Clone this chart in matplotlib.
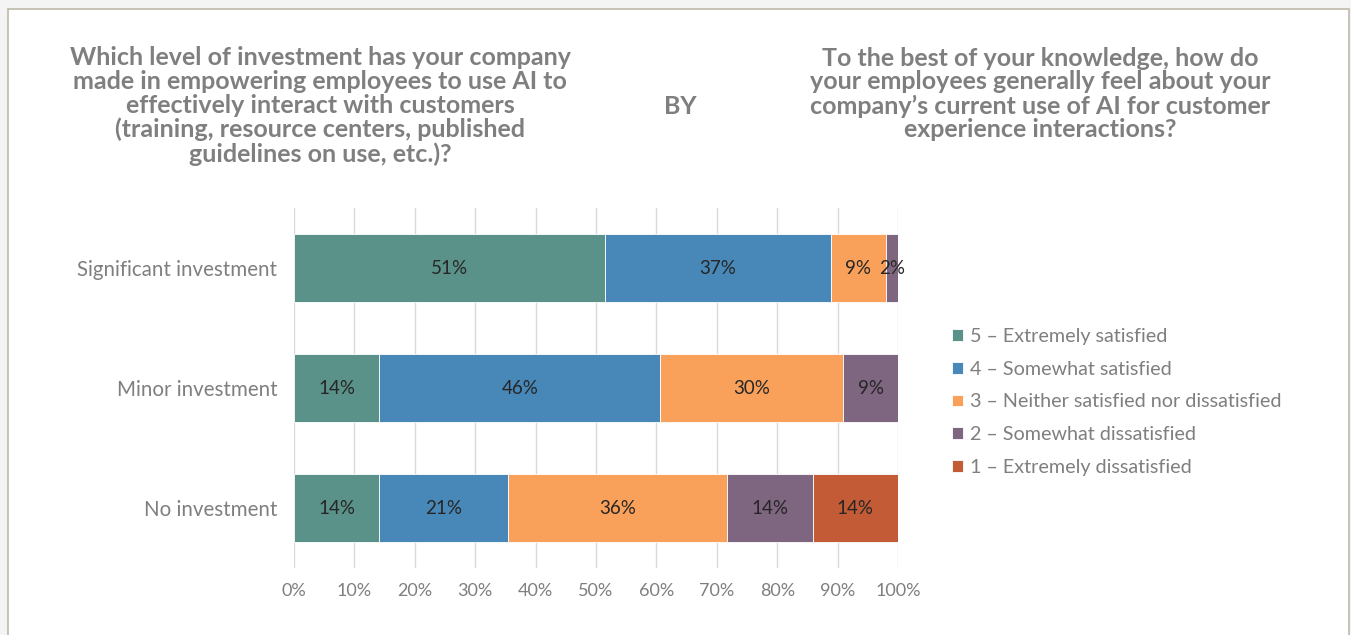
import matplotlib.pyplot as plt
from matplotlib.patches import Rectangle
import numpy as np

plt.rcParams['font.family'] = ['Lato', 'DejaVu Sans']

categories = ['Significant investment', 'Minor investment', 'No investment']
series = ['5 – Extremely satisfied', '4 – Somewhat satisfied',
          '3 – Neither satisfied nor dissatisfied', '2 – Somewhat dissatisfied',
          '1 – Extremely dissatisfied']
extremely_satisfied = [51, 14, 14]
somewhat_satisfied = [37, 46, 21]
neither = [9, 30, 36]
somewhat_dissatisfied = [2, 9, 14]
extremely_dissatisfied = [0, 0, 14]
colors = ['#5a9188', '#4888b8', '#f9a15a', '#7e6580', '#c35b37']

left_title = ('Which level of investment has your company\n'
              'made in empowering employees to use AI to\n'
              'effectively interact with customers\n'
              '(training, resource centers, published\n'
              'guidelines on use, etc.)?')
right_title = ('To the best of your knowledge, how do\n'
               'your employees generally feel about your\n'
               'company\u2019s current use of AI for customer\n'
               'experience interactions?')

values = np.array([extremely_satisfied, somewhat_satisfied, neither,
                   somewhat_dissatisfied, extremely_dissatisfied], dtype=float)
# 100% stacked: each row scaled to its own total
shares = values / values.sum(axis=0) * 100

fig = plt.figure(figsize=(13.51, 6.35), dpi=100)
fig.patch.set_facecolor('#f4f4f4')
fig.patches.append(Rectangle((8 / 1351, -0.01), (1349 - 8) / 1351, 1 - 9 / 635 + 0.01,
                             transform=fig.transFigure, facecolor='white',
                             edgecolor='#bdb9aa', linewidth=1.2, zorder=-5))

ax = fig.add_axes([294 / 1351, 1 - 568 / 635, (898 - 294) / 1351, 360 / 635])
ax.set_facecolor('none')
y = np.arange(len(categories))
left = np.zeros(len(categories))
for i, name in enumerate(series):
    bars = ax.barh(y, shares[i], left=left, height=0.57, color=colors[i],
                   edgecolor='white', linewidth=0.6, label=name, zorder=2)
    for j, b in enumerate(bars):
        if values[i, j] > 0:
            ax.text(left[j] + shares[i, j] / 2, y[j], f'{values[i, j]:.0f}%',
                    ha='center', va='center', fontsize=13.5, color='#262626', zorder=3)
    left += shares[i]

ax.set_xlim(0, 100)
ax.set_ylim(2.5, -0.5)
ax.set_xticks(np.arange(0, 101, 10))
ax.set_xticklabels([f'{v}%' for v in range(0, 101, 10)], fontsize=13, color='#7f7f7f')
ax.set_yticks(y)
ax.set_yticklabels(categories, fontsize=14.8, color='#7f7f7f')
ax.tick_params(axis='y', length=0, pad=12)
ax.tick_params(axis='x', length=0, pad=11)
ax.grid(axis='x', color='#d9d9d9', linewidth=1, zorder=0)
for s in ax.spines.values():
    s.set_visible(False)

fig.text(320 / 1351, 1 - 106 / 635, left_title, ha='center', va='center',
         fontsize=18, fontweight='bold', color='#7f7f7f', linespacing=1.04)
fig.text(680 / 1351, 1 - 106 / 635, 'BY', ha='center', va='center',
         fontsize=18, fontweight='bold', color='#7f7f7f')
fig.text(1040 / 1351, 1 - 94 / 635, right_title, ha='center', va='center',
         fontsize=18, fontweight='bold', color='#7f7f7f', linespacing=1.04)

leg = ax.legend(loc='center left', bbox_to_anchor=(934 / 1351, 1 - 402 / 635),
                bbox_transform=fig.transFigure, frameon=False, fontsize=14.2,
                handlelength=0.55, handleheight=0.55, handletextpad=0.35,
                labelspacing=0.8, labelcolor='#7f7f7f')

fig.savefig('out.png', dpi=100, facecolor=fig.get_facecolor())
